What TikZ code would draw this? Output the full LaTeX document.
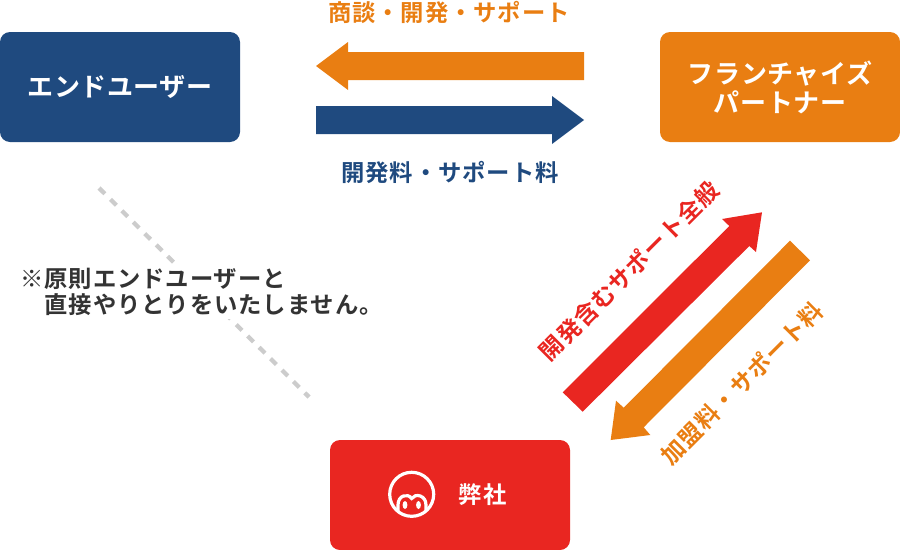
\documentclass[tikz,border=0pt]{standalone}
\usepackage{fontspec}
\setmainfont{Noto Sans CJK JP}[BoldFont={Noto Sans CJK JP Bold}]
\newfontfamily\jpb{Noto Sans CJK JP Bold}[LetterSpace=4]
\newfontfamily\jpc{Noto Sans CJK JP Bold}[LetterSpace=2]
\newfontfamily\jpd{Noto Sans CJK JP Bold}[LetterSpace=10]
\definecolor{cblue}{HTML}{1F4A7F}
\definecolor{corange}{HTML}{E97E12}
\definecolor{cred}{HTML}{E92621}
\definecolor{cgray}{HTML}{CCCCCC}
\definecolor{ctext}{HTML}{333333}
\tikzset{
  x=0.75pt,y=-0.75pt,
  party/.style={fill=#1,draw=none,rounded corners=7.5pt,minimum width=180pt,minimum height=82.5pt,inner sep=0pt,text=white,align=center},
  lab/.style={text=#1,inner sep=0pt,font=\fontsize{17.5pt}{20pt}\selectfont\jpb},
  partytext/.style={font=\fontsize{19.5pt}{21.75pt}\selectfont\jpc},
}
\begin{document}
\begin{tikzpicture}
\useasboundingbox (0,0) rectangle (900,550);
% dashed line behind the note
\coordinate (d1) at (99,188);
\coordinate (d2) at (309,397);
\draw[cgray,line width=3.2pt,dash pattern=on 6.2pt off 5.9pt] (d1) -- (d2);
\node[party=cblue,partytext] (user) at (120,87) {エンドユーザー};
\node[party=corange,partytext] (fc) at (780,87) {フランチャイズ\\パートナー};
\node[party=cred] (us) at (450,495) {};
\node[text=white,inner sep=0pt,font=\fontsize{17.5pt}{24pt}\selectfont\jpd] (ustext) at (482.5,494.5) {弊社};
% horizontal arrows
\fill[corange] (584,52) -- (348,52) -- (348,42) -- (316,66) -- (348,90) -- (348,80) -- (584,80) -- cycle;
\fill[cblue] (316,106) -- (552,106) -- (552,96) -- (584,120) -- (552,144) -- (552,134) -- (316,134) -- cycle;
% diagonal arrows
\fill[cred] (562.7,392.3) -- (729.3,226) -- (722,219) -- (762,212.3) -- (756,252) -- (749.3,246) -- (582.7,411.7) -- cycle;
\fill[corange] (790,240.7) -- (623.7,407.7) -- (616,400.7) -- (610.7,440) -- (650.3,435) -- (643.7,427.3) -- (810,260.3) -- cycle;
% labels
\node[lab=corange] (l1) at (449,12) {商談・開発・サポート};
\node[lab=cblue] (l2) at (450,172) {開発料・サポート料};
\node[lab=cred,rotate=45] (l3) at (629,271) {開発含むサポート全般};
\node[lab=corange,rotate=45] (l4) at (742,383) {加盟料・サポート料};
% note
\node[fill=white,text=ctext,inner sep=0pt,inner ysep=3pt,anchor=west,align=left,font=\fontsize{17.5pt}{19.5pt}\selectfont\jpb] (note) at (20,291.5) {※原則エンドユーザーと\\　直接やりとりをいたしません。};
% logo
\draw[white,line width=2.4pt] (411.7,494.3) circle (22);
\begin{scope}
\clip (411.7,494.3) circle (22);
\draw[white,line width=2.4pt] (398,514) -- (398,505) .. controls (398,495) and (408,493) .. (411.7,498.5) .. controls (415,493) and (426,495) .. (426,505) -- (426,514);
\fill[white] (405,505) ellipse (2.4 and 4);
\fill[white] (418.5,505) ellipse (2.4 and 4);
\end{scope}
\end{tikzpicture}
\end{document}
